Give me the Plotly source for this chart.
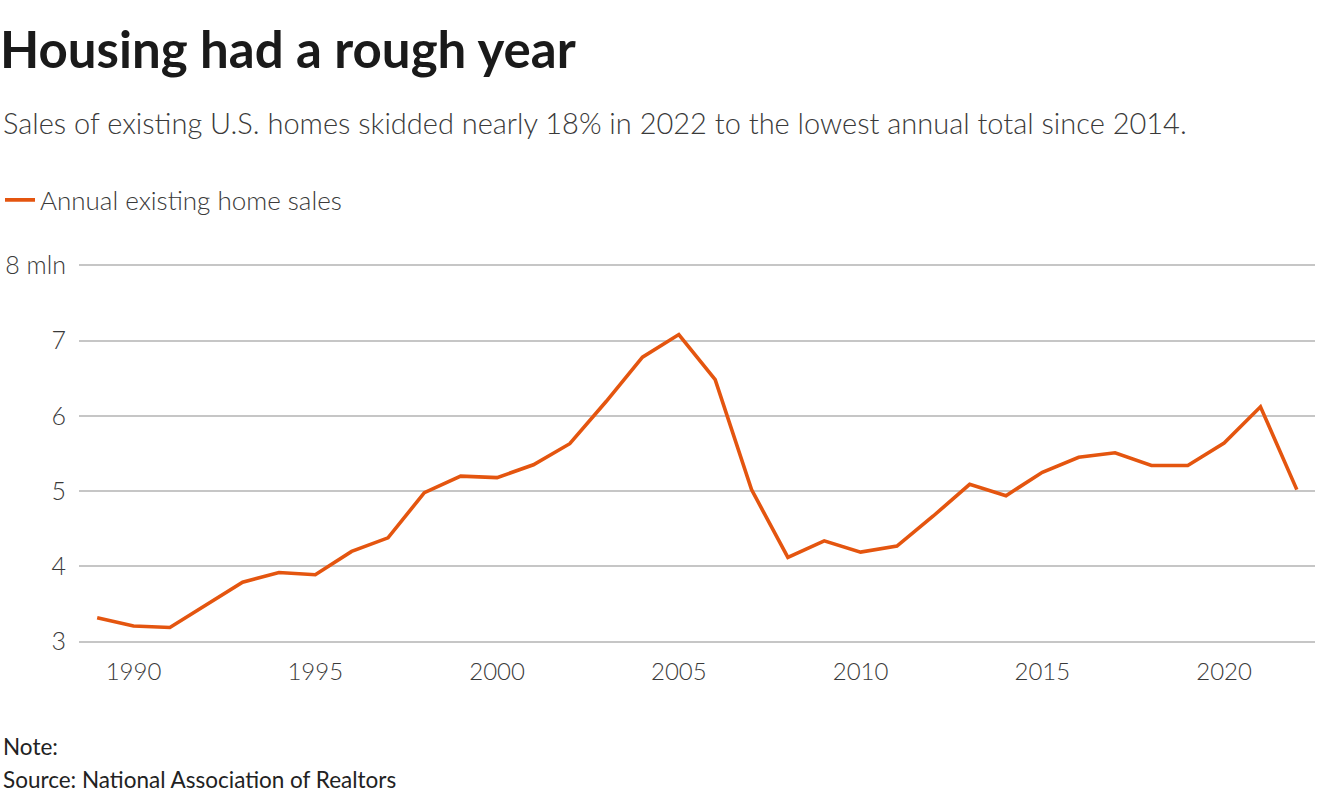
import plotly.graph_objects as go

years = list(range(1989, 2023))
sales = [3.32, 3.21, 3.19, 3.49, 3.79, 3.92, 3.89, 4.20, 4.38, 4.98,
         5.20, 5.18, 5.35, 5.63, 6.19, 6.78, 7.08, 6.48, 5.02, 4.12,
         4.34, 4.19, 4.27, 4.67, 5.09, 4.94, 5.25, 5.45, 5.51, 5.34,
         5.34, 5.64, 6.12, 5.02]
series_name = "Annual existing home sales"
y_ticks = [3, 4, 5, 6, 7, 8]
y_ticktext = ["3", "4", "5", "6", "7", "8 mln"]
x_ticks = [1990, 1995, 2000, 2005, 2010, 2015, 2020]

title = "Housing had a rough year"
subtitle = "Sales of existing U.S. homes skidded nearly 18% in 2022 to the lowest annual total since 2014."
note = "Note:"
source = "Source: National Association of Realtors"

W, H = 1320, 800
L, R, T, B = 75, 5, 263, 156
pw = W - L - R
ph = H - T - B
def px(x):
    return (x - L) / pw
def py(y):
    return (H - B - y) / ph

LINE = "#E4550F"
TXT = "#3a3a3a"
FONT = "Lato"

fig = go.Figure()
fig.add_trace(go.Scatter(x=years, y=sales, mode="lines", name=series_name,
                         line=dict(color=LINE, width=3.6)))

fig.update_layout(
    width=W, height=H,
    margin=dict(l=L, r=R, t=T, b=B),
    paper_bgcolor="white", plot_bgcolor="white",
    font=dict(family=FONT, color=TXT),
    title=dict(text=title, x=0, xref="container", xanchor="left",
               y=1 - 50 / H, yref="container", yanchor="middle",
               font=dict(family=FONT, size=51, color="#1a1a1a", weight=700)),
    showlegend=True,
    legend=dict(x=-0.003, xref="container", xanchor="left", y=1 - 200 / H, yref="container",
                yanchor="middle", orientation="h", bgcolor="rgba(0,0,0,0)",
                font=dict(family=FONT, size=26, color=TXT, weight=300),
                borderwidth=0, itemwidth=30),
    xaxis=dict(range=[1988.5, 2022.5], tickvals=x_ticks, showgrid=False,
               zeroline=False, showline=False, ticks="",
               tickfont=dict(family=FONT, size=24, color=TXT, weight=300),
               ticklabelstandoff=11, fixedrange=True),
    yaxis=dict(range=[2.97, 8.03], tickvals=y_ticks, ticktext=y_ticktext,
               showgrid=True, gridcolor="#c6c6c6", gridwidth=1.5,
               zeroline=False, showline=False, ticks="",
               tickfont=dict(family=FONT, size=25, color=TXT, weight=300),
               ticklabelstandoff=12, fixedrange=True),
    annotations=[
        dict(text=subtitle, xref="paper", yref="paper", x=px(-3), y=py(122),
             xanchor="left", yanchor="middle", showarrow=False, align="left",
             font=dict(family=FONT, size=29, color=TXT, weight=300)),
        dict(text=note, xref="paper", yref="paper", x=px(-3), y=py(746),
             xanchor="left", yanchor="middle", showarrow=False,
             font=dict(family=FONT, size=22.5, color="#222222")),
        dict(text=source, xref="paper", yref="paper", x=px(-3), y=py(779),
             xanchor="left", yanchor="middle", showarrow=False,
             font=dict(family=FONT, size=22.5, color="#222222")),
    ],
)

fig.write_html("out.html", config={"displayModeBar": False},
               post_script="document.body.style.margin='0';")
